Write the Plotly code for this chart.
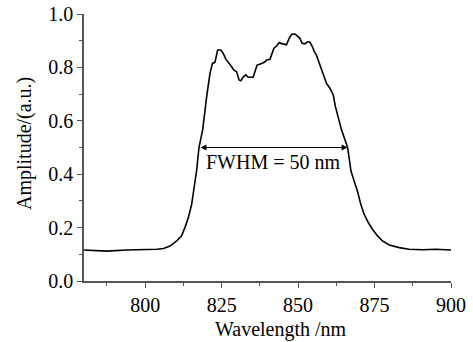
import plotly.graph_objects as go

wavelength = [780, 787.4, 793.9, 800.5, 803.8, 806, 808.1, 810.3, 811.9, 813, 814.1, 815.2, 816, 816.8,
              817.6, 818.8, 820.1, 821.2, 822, 822.8, 823.7, 824.7, 825.5, 826.4, 827.5, 828.3, 829,
              829.9, 830.7, 831.3, 832.1, 832.9, 833.7, 835.3, 836.2, 836.6, 838.1, 839.2, 839.7, 840.8,
              841.3, 842.1, 843, 843.8, 844.4, 845.1, 846.2, 847.1, 847.9, 849, 849.8, 850.6, 851.3,
              852.2, 853.1, 853.9, 854.7, 855.3, 856, 856.9, 857.7, 858.4, 859.3, 860.4, 861.5, 862.2,
              863.1, 864.2, 866.2, 867.3, 868.3, 869.4, 870.5, 871.6, 873.0, 874.3, 876, 877.6, 879.8,
              883.1, 886.3, 890.7, 895, 900]
amplitude = [0.116, 0.112, 0.116, 0.117, 0.119, 0.122, 0.131, 0.15, 0.169, 0.2, 0.237, 0.287, 0.349, 0.412,
             0.5, 0.566, 0.69, 0.778, 0.815, 0.819, 0.865, 0.865, 0.853, 0.83, 0.815, 0.803, 0.79,
             0.784, 0.753, 0.75, 0.765, 0.772, 0.763, 0.763, 0.79, 0.809, 0.815, 0.821, 0.828, 0.83,
             0.846, 0.872, 0.88, 0.893, 0.89, 0.888, 0.885, 0.909, 0.924, 0.925, 0.918, 0.909, 0.89,
             0.888, 0.896, 0.894, 0.877, 0.859, 0.846, 0.815, 0.79, 0.772, 0.74, 0.722, 0.697, 0.653,
             0.615, 0.566, 0.5, 0.412, 0.375, 0.337, 0.287, 0.25, 0.218, 0.194, 0.169, 0.15, 0.135,
             0.125, 0.119, 0.117, 0.119, 0.116]

fwhm_left = 817.6
fwhm_right = 866.2
fwhm_level = 0.5
fwhm_label = "FWHM = 50 nm"
label_x = 841.8
label_y = 0.445

x_title = "Wavelength /nm"
y_title = "Amplitude/(a.u.)"
x_ticks = [800, 825, 850, 875, 900]
y_ticks = [0.0, 0.2, 0.4, 0.6, 0.8, 1.0]

font_family = "Liberation Serif, Times New Roman, serif"
axis_color = "#555555"
fs = 20

fig = go.Figure()
fig.add_trace(go.Scatter(x=wavelength, y=amplitude, mode="lines",
                         line=dict(color="black", width=1.6), showlegend=False))

fig.add_annotation(x=fwhm_right, y=fwhm_level, ax=fwhm_left, ay=fwhm_level,
                   xref="x", yref="y", axref="x", ayref="y", text="",
                   showarrow=True, arrowhead=2, arrowside="end+start",
                   arrowsize=1, arrowwidth=1.2, arrowcolor="black",
                   startarrowhead=2, startarrowsize=1)
fig.add_annotation(x=label_x, y=label_y, xref="x", yref="y", text=fwhm_label,
                   showarrow=False, font=dict(family=font_family, size=fs, color="black"))

# axis titles
fig.add_annotation(x=0.537, y=0, xref="paper", yref="paper", yanchor="middle", xanchor="center",
                   yshift=-48, text=x_title, showarrow=False,
                   font=dict(family=font_family, size=fs, color="black"))
fig.add_annotation(x=0, y=0.513, xref="paper", yref="paper", yanchor="middle", xanchor="center",
                   xshift=-60, textangle=-90, text=y_title, showarrow=False,
                   font=dict(family=font_family, size=fs, color="black"))

fig.update_layout(
    width=473, height=342,
    margin=dict(l=84, r=22, t=14, b=61),
    paper_bgcolor="white", plot_bgcolor="white",
    font=dict(family=font_family, size=fs, color="black"),
    xaxis=dict(range=[780, 900], tickvals=x_ticks, ticks="outside", ticklen=5, tickwidth=1.2,
               tickcolor=axis_color, showline=True, linecolor=axis_color, linewidth=1.5,
               showgrid=False, zeroline=False, automargin=False,
               minor=dict(dtick=12.5, tick0=800, ticks="outside", ticklen=3, tickcolor=axis_color, tickwidth=1.2),
               tickfont=dict(family=font_family, size=fs)),
    yaxis=dict(range=[0, 1.0], tickvals=y_ticks, tickformat=".1f", ticks="outside", ticklen=5,
               tickwidth=1.2, tickcolor=axis_color, showline=True, linecolor=axis_color, linewidth=1.5,
               showgrid=False, zeroline=False, automargin=False,
               minor=dict(dtick=0.1, ticks="outside", ticklen=3, tickcolor=axis_color, tickwidth=1.2),
               tickfont=dict(family=font_family, size=fs)),
)

fig.write_html("out.html", config={"displayModeBar": False},
               post_script="document.body.style.margin='0';document.body.style.overflow='hidden';")
